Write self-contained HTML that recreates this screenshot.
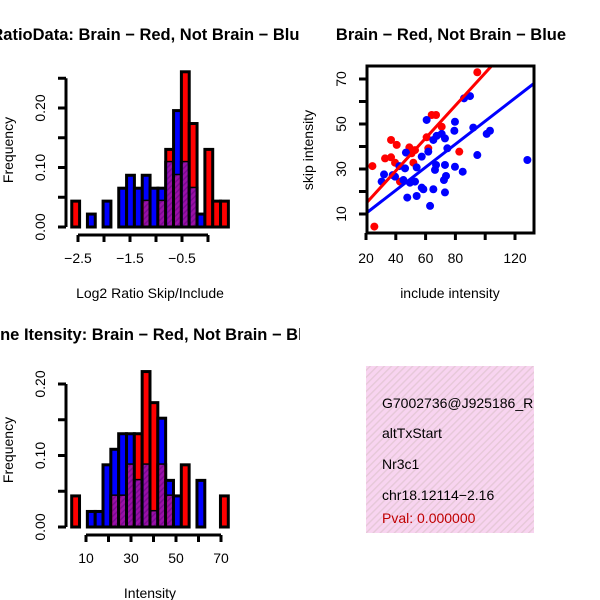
<!DOCTYPE html>
<html><head><meta charset="utf-8"><style>
html,body{margin:0;padding:0;background:#fff;}
svg{display:block;font-family:"Liberation Sans",sans-serif;}
</style></head><body>
<svg id="chart" width="600" height="600" viewBox="0 0 600 600">
<defs>
<pattern id="purp" width="4" height="4" patternUnits="userSpaceOnUse" patternTransform="rotate(45)">
<rect width="4" height="4" fill="#9a10a8"/><rect width="1.5" height="4" fill="#7a0a90"/>
</pattern>
<pattern id="pink" width="5" height="5" patternUnits="userSpaceOnUse" patternTransform="rotate(45)">
<rect width="5" height="5" fill="#f8d4f0"/><rect width="1.4" height="5" fill="#e6c8d8"/>
</pattern>
<clipPath id="clipLeft"><rect x="0" y="0" width="300" height="600"/></clipPath>
<clipPath id="clipInfo"><rect x="366" y="366" width="168" height="167"/></clipPath>
</defs>
<g id="g1" clip-path="url(#clipLeft)"></g>
<g id="g2"></g>
<g id="g3" clip-path="url(#clipLeft)"></g>
<g clip-path="url(#clipInfo)">
<rect x="366" y="366" width="168" height="167" fill="url(#pink)"/>
<text x="382" y="408" font-size="14">G7002736@J925186_RC</text>
<text x="382" y="438" font-size="14">altTxStart</text>
<text x="382" y="469" font-size="14">Nr3c1</text>
<text x="382" y="500" font-size="14">chr18.12114−2.16</text>
<text x="382" y="523" font-size="14" fill="#c00000">Pval: 0.000000</text>
</g>
</svg>
<script>
// ---- Histogram 1 data (counts per bin, n=46) ----
const h1Red  = [2,0,0,0,0,0,0,0,0,2,0,2,6,4,12,8,0,6,2,2];
const h1Blue = [0,0,1,0,2,0,3,4,3,4,3,3,5,9,5,3,1,0,0,0];
const h1XTicks = [-2.5,-2,-1.5,-1,-0.5,0];
const h1XLabels = ["−2.5","","−1.5","","−0.5",""];
const h1YTicks = [0,0.05,0.1,0.15,0.2,0.25];
const h1YLabels = ["0.00","","0.10","","0.20",""];
// ---- Histogram 2 data ----
const h2Red  = [2,0,0,0,0,2,2,4,6,10,8,4,2,0,4,0,0,0,0,2];
const h2Blue = [0,0,1,1,4,5,6,6,3,4,1,7,3,2,0,0,3,0,0,0];
const h2XTicks = [10,20,30,40,50,60,70];
const h2XLabels = ["10","","30","","50","","70"];
const h2YTicks = [0,0.05,0.1,0.15,0.2];
const h2YLabels = ["0.00","","0.10","","0.20"];
// ---- Scatter data ----
const redX = [94.7,64.1,67.0,70.8,36.8,40.6,49.1,52.9,61.8,32.8,36.8,82.6,24.3,39.5,51.8,42.8,25.6,60.7,50.6];
const redY = [73,54,54,48.8,42.9,40.7,39.6,38.4,39.2,34.7,35.2,37.7,31.3,32.8,32.8,24.4,4.4,44.1,37.0];
const blueX = [128.3,103.2,101,92,85.8,89.8,79.7,79.3,60.7,67.4,70.8,73,65.2,74.6,61.8,57.4,46.8,94.7,42.4,46.2,54,67,73,79.7,84.9,32.1,30.5,39.5,45.1,49.5,52.9,57.4,58.5,65.2,73.7,72.3,73,47.7,54,63,37.9,66.3];
const blueY = [34,47,45.6,48.4,61.4,62.4,51,47,51.8,44.7,45.6,43.6,42.9,39.2,37.7,35.5,37.3,36.2,31.3,30.3,30.7,31.8,31.8,31,28.8,27.6,24.4,26.6,25.1,23.9,24.4,21.7,21,21,26.9,25.1,19.6,17.3,18,13.6,27.3,29.6];
const redFit = [0.2,0.725];
const blueFit = [0.06,0.512];
const scXTicks = [20,40,60,80,100,120];
const scXLabels = ["20","40","60","80","","120"];
const scYTicks = [10,20,30,40,50,60,70];
const scYLabels = ["10","","30","","50","","70"];

const NS="http://www.w3.org/2000/svg";
function mk(parent,tag,attrs,text){const e=document.createElementNS(NS,tag);for(const k in attrs)e.setAttribute(k,attrs[k]);if(text!==undefined)e.textContent=text;parent.appendChild(e);return e;}

function hist(g,red,blue,x0,bw,xScale,yScale,xTicks,xLabels,yTicks,yLabels,axisY,title,titleX,titleY,xTitle,xTitleY,yTitleY,n){
  const yB=yScale(0);
  for(let i=0;i<red.length;i++){
    const xl=xScale(x0+i*bw), xr=xScale(x0+(i+1)*bw);
    const r=red[i]/n, b=blue[i]/n;
    const order = r>=b ? [["red",r],["blue",b]] : [["blue",b],["red",r]];
    for(const [c,v] of order){
      if(v<=0) continue;
      const el=mk(g,'rect',{x:xl,y:yScale(v),width:xr-xl,height:yB-yScale(v),fill:c,stroke:'#000','stroke-width':3});
      
      
    }
    const m=Math.min(r,b);
    if(m>0){
      const p=mk(g,'rect',{x:xl+1.5,y:yScale(m),width:xr-xl-3,height:yB-yScale(m)-1.5,fill:'url(#purp)'});
      
      
    }
  }
  const ya=mk(g,'line',{x1:66,x2:66,y1:yScale(yTicks[0]),y2:yScale(yTicks[yTicks.length-1]),stroke:'#000','stroke-width':3});
  
  
  yTicks.forEach((t,i)=>{
    mk(g,'line',{x1:58,x2:66,y1:yScale(t),y2:yScale(t),stroke:'#000','stroke-width':3});
    if(yLabels[i]){const tx=mk(g,'text',{x:0,y:0,'font-size':14,'text-anchor':'middle',transform:`translate(45,${yScale(t)}) rotate(-90)`},yLabels[i]);
      
      }
  });
  const xa=mk(g,'line',{x1:xScale(xTicks[0]),x2:xScale(xTicks[xTicks.length-1]),y1:axisY,y2:axisY,stroke:'#000','stroke-width':3});
  
  
  xTicks.forEach((t,i)=>{
    mk(g,'line',{x1:xScale(t),x2:xScale(t),y1:axisY,y2:axisY+7,stroke:'#000','stroke-width':3});
    if(xLabels[i]){const tx=mk(g,'text',{x:xScale(t),y:axisY+28,'font-size':14,'text-anchor':'middle'},xLabels[i]);
      
      }
  });
  const tt=mk(g,'text',{x:titleX,y:titleY,'font-size':16.5,'font-weight':'bold','text-anchor':'middle'},title);
  
  
  const xt=mk(g,'text',{x:150,y:xTitleY,'font-size':14,'text-anchor':'middle'},xTitle);
  
  
  const yt=mk(g,'text',{x:0,y:0,'font-size':14,'text-anchor':'middle',transform:`translate(13,${yTitleY}) rotate(-90)`},'Frequency');
  
  
}

const g1=document.getElementById('g1');
hist(g1,h1Red,h1Blue,-2.62,0.1506,v=>78+(v+2.5)*52,v=>227-v*595,h1XTicks,h1XLabels,h1YTicks,h1YLabels,235,
 'RatioData: Brain − Red, Not Brain − Blue',150,40,'Log2 Ratio Skip/Include',298,150,46);
const g3=document.getElementById('g3');
hist(g3,h2Red,h2Blue,3.64,3.48,v=>86+(v-10)*2.25,v=>527-v*715,h2XTicks,h2XLabels,h2YTicks,h2YLabels,535,
 'Gene Itensity: Brain − Red, Not Brain − Blue',150,340,'Intensity',598,450,46);

// scatter
const g2=document.getElementById('g2');
const sx=v=>366+(v-20)*1.49, sy=v=>214-(v-10)*2.25;
mk(g2,'clipPath',{id:'clipSc'});
mk(document.getElementById('clipSc'),'rect',{x:367,y:66,width:167,height:167});
const pts=mk(g2,'g',{'clip-path':'url(#clipSc)'});
function fitLine(f,col,name){
  const xa=18,xb=134;
  const l=mk(pts,'line',{x1:sx(xa),y1:sy(f[0]+f[1]*xa),x2:sx(xb),y2:sy(f[0]+f[1]*xb),stroke:col,'stroke-width':3});
  
  
}
redX.forEach((x,i)=>{const c=mk(pts,'circle',{cx:sx(x),cy:sy(redY[i]),r:4,fill:'red'});
  
  });
blueX.forEach((x,i)=>{const c=mk(pts,'circle',{cx:sx(x),cy:sy(blueY[i]),r:4,fill:'blue'});
  
  });
fitLine(redFit,'red','red-fit-line');
fitLine(blueFit,'blue','blue-fit-line');
const box=mk(g2,'rect',{x:367,y:66,width:167,height:167,fill:'none',stroke:'#000','stroke-width':3});


scXTicks.forEach((t,i)=>{
  mk(g2,'line',{x1:sx(t),x2:sx(t),y1:233,y2:240,stroke:'#000','stroke-width':3});
  if(scXLabels[i]){const tx=mk(g2,'text',{x:sx(t),y:263,'font-size':14,'text-anchor':'middle'},scXLabels[i]);
    
    }
});
scYTicks.forEach((t,i)=>{
  mk(g2,'line',{x1:359,x2:367,y1:sy(t),y2:sy(t),stroke:'#000','stroke-width':3});
  if(scYLabels[i]){const tx=mk(g2,'text',{x:0,y:0,'font-size':14,'text-anchor':'middle',transform:`translate(346,${sy(t)}) rotate(-90)`},scYLabels[i]);
    
    }
});
const st=mk(g2,'text',{x:451,y:40,'font-size':16.5,'font-weight':'bold','text-anchor':'middle'},'Brain − Red, Not Brain − Blue');


const sxt=mk(g2,'text',{x:450,y:298,'font-size':14,'text-anchor':'middle'},'include intensity');


const syt=mk(g2,'text',{x:0,y:0,'font-size':14,'text-anchor':'middle',transform:'translate(313,150) rotate(-90)'},'skip intensity');


</script>
</body></html>
